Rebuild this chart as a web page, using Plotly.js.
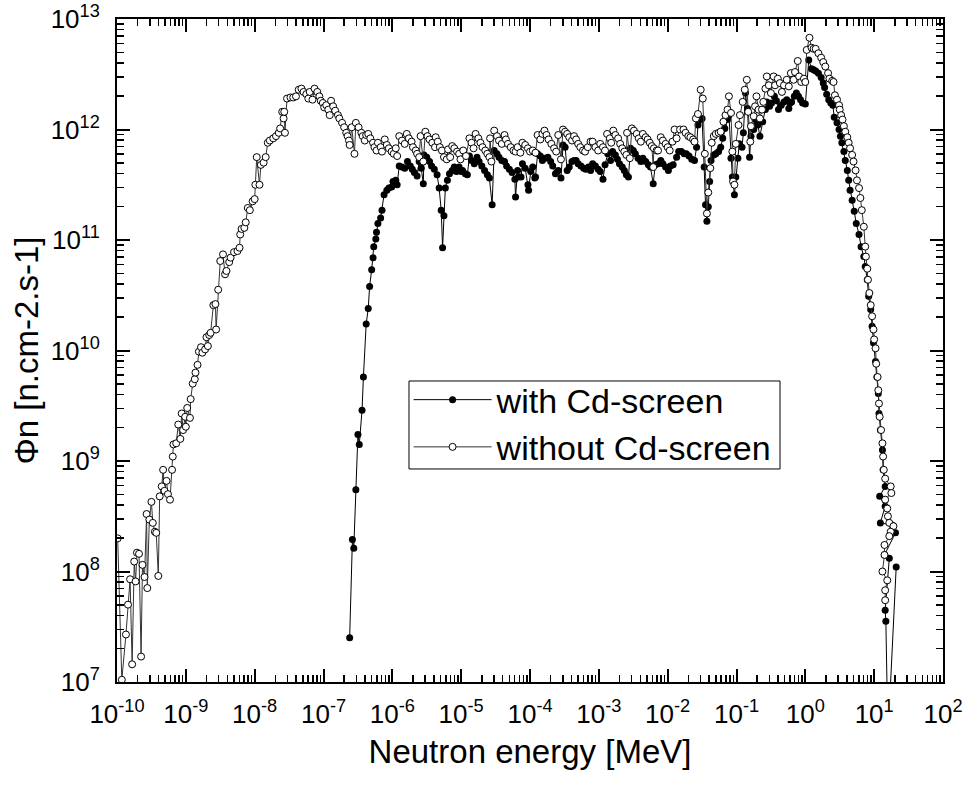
<!DOCTYPE html>
<html>
<head>
<meta charset="utf-8">
<script src="https://cdn.plot.ly/plotly-3.0.1.min.js"></script>
<style>html,body{margin:0;padding:0;background:#fff}#chart{width:966px;height:785px}</style>
</head>
<body>
<div id="chart"></div>
<script>
// log10(E [MeV]) and log10(flux)
const withoutLogE = [
-9.99,-9.93,-9.87,-9.84,-9.81,-9.78,-9.75,-9.73,-9.71,-9.68,-9.65,-9.63,-9.60,-9.57,-9.56,-9.53,-9.50,-9.48,-9.45,-9.43,-9.40,-9.38,
-9.35,-9.33,-9.31,-9.28,-9.26,-9.23,-9.20,-9.19,-9.18,-9.14,-9.11,-9.08,-9.06,-9.04,-9.01,-9.00,-8.98,-8.94,-8.93,-8.90,-8.87,-8.86,
-8.83,-8.81,-8.78,-8.76,-8.72,-8.70,-8.68,-8.66,-8.64,-8.60,-8.57,-8.56,-8.53,-8.50,-8.46,-8.43,-8.41,-8.37,-8.35,-8.30,-8.25,
-8.22,-8.21,-8.19,-8.15,-8.13,-8.10,-8.07,-8.03,-8.00,-7.99,-7.97,-7.93,-7.91,-7.87,-7.84,-7.81,-7.78,-7.73,-7.69,-7.65,-7.63,
-7.60,-7.58,-7.57,-7.56,-7.53,-7.48,-7.44,-7.40,-7.36,-7.32,-7.29,-7.25,-7.22,-7.20,-7.16,-7.13,-7.09,-7.06,-7.04,-7.01,-6.99,
-6.96,-6.93,-6.91,-6.89,-6.86,-6.83,-6.79,-6.77,-6.73,-6.70,-6.67,-6.65,-6.63,-6.62,-6.59,-6.55,-6.53,-6.49,-6.45,-6.43,-6.40,
-6.38,-6.35,-6.32,-6.28,-6.26,-6.23,-6.21,-6.17,
-6.15,-6.11,-6.08,-6.05,-6.01,-5.98,-5.95,-5.93,-5.90,-5.86,-5.82,-5.79,-5.76,-5.72,-5.70,-5.66,-5.64,-5.61,-5.59,-5.55,-5.52,
-5.49,-5.46,-5.42,-5.38,-5.37,-5.34,-5.31,-5.28,-5.25,-5.21,-5.19,-5.16,-5.13,-5.10,-5.06,-5.03,-5.01,-4.97,-4.93,-4.88,-4.85,
-4.82,-4.79,-4.75,-4.72,-4.69,-4.65,-4.62,-4.59,-4.58,-4.56,-4.52,-4.48,-4.45,-4.41,-4.37,-4.35,-4.32,-4.28,-4.24,-4.21,-4.18,
-4.14,-4.11,-4.07,-4.03,-4.00,-3.96,-3.92,-3.89,-3.85,-3.82,-3.79,-3.76,-3.73,-3.69,-3.65,-3.62,-3.59,-3.55,-3.52,-3.49,-3.46,
-3.43,-3.39,-3.36,-3.33,-3.30,-3.27,-3.23,-3.20,-3.16,-3.12,-3.09,-3.05,-3.01,-2.98,-2.94,-2.91,-2.88,-2.84,-2.82,-2.79,-2.76,
-2.72,-2.69,-2.66,-2.63,-2.60,-2.59,-2.55,-2.52,-2.49,-2.45,-2.42,-2.39,-2.36,-2.32,-2.29,-2.26,-2.23,-2.21,-2.20,-2.16,-2.14,
-2.10,-2.07,-2.03,-2.00,-1.97,-1.93,-1.90,-1.87,-1.82,
-1.77,-1.74,-1.70,-1.67,-1.63,-1.61,-1.59,-1.56,-1.52,-1.49,-1.46,-1.43,-1.41,-1.38,-1.36,-1.33,-1.30,-1.26,-1.23,-1.19,-1.16,
-1.13,-1.11,-1.08,-1.06,-1.05,-1.03,-1.01,-0.97,-0.95,-0.91,-0.88,-0.85,-0.83,-0.80,-0.79,-0.75,-0.73,-0.71,-0.68,-0.66,-0.63,
-0.61,-0.58,-0.56,-0.53,-0.50,-0.46,-0.44,-0.40,-0.37,-0.34,-0.31,-0.27,-0.24,-0.21,-0.17,-0.15,-0.11,-0.09,-0.06,-0.02,0.00,
0.02,0.06,0.09,0.12,0.15,0.19,0.23,0.26,0.29,0.33,0.35,0.39,0.41,0.43,0.46,0.49,0.50,0.52,0.54,0.56,0.58,0.61,0.63,0.65,0.68,
0.70,0.73,0.75,0.78,0.80,0.82,0.85,
0.87,0.88,0.90,0.91,0.93,0.95,0.97,0.99,1.00,1.02,1.03,1.05,1.06,1.07,1.08,1.10,1.12,1.13,1.14,1.16,1.24,1.25,1.16,1.19,1.20,
1.22,1.28,1.24,1.22,1.15,1.15,1.12,1.19,1.16,1.16
];
const withoutLogPhi = [
8.30,7.02,7.43,7.70,7.93,7.16,8.09,7.91,8.17,8.16,7.23,8.06,7.95,8.52,7.85,8.47,8.63,8.44,8.36,8.35,7.96,8.68,
8.77,8.92,8.73,8.82,8.70,8.65,8.92,9.04,9.15,9.16,9.33,9.20,9.43,9.28,9.40,9.31,9.48,9.39,9.56,9.70,9.74,9.80,
9.87,9.99,10.03,9.98,10.01,10.12,10.04,10.14,10.16,10.41,10.42,10.19,10.55,10.81,10.87,10.69,10.72,10.80,10.84,10.89,10.90,
10.93,11.05,11.10,11.11,11.16,11.29,11.27,11.35,11.37,11.50,11.75,11.50,11.68,11.70,11.75,11.88,11.90,11.92,11.94,11.97,12.01,
12.16,12.10,12.16,11.97,12.28,12.29,12.29,12.30,12.36,12.37,12.34,12.32,12.28,12.34,12.27,12.37,12.34,12.30,12.26,12.24,12.20,
12.22,12.18,12.13,12.26,12.21,12.17,12.13,12.10,12.06,12.02,11.97,11.94,11.90,11.86,12.02,11.78,12.06,12.02,11.97,11.94,11.90,
11.95,11.96,11.92,11.88,11.84,11.81,11.88,11.84,
11.80,11.91,11.86,11.83,11.80,11.78,11.83,11.76,11.94,11.90,11.87,11.96,11.92,11.89,11.84,11.81,11.78,11.75,11.94,11.71,11.98,
11.94,11.91,11.88,11.84,11.93,11.89,11.84,11.81,11.75,11.73,11.82,11.75,11.85,11.83,11.80,11.78,11.73,11.81,11.76,11.92,11.88,
11.83,11.96,11.92,11.88,11.84,11.81,11.78,11.75,11.92,11.71,11.99,11.94,11.90,11.87,11.95,11.91,11.87,11.84,11.81,11.80,11.84,
11.79,11.88,11.86,11.83,11.80,11.81,11.79,11.95,11.91,11.96,11.99,11.95,11.91,11.87,11.83,11.80,11.95,11.73,12.00,11.98,11.96,
11.93,11.90,11.94,11.91,11.87,11.84,11.81,11.80,11.84,11.89,11.89,11.84,11.81,11.87,11.84,11.81,11.96,11.92,11.88,11.99,11.95,
11.92,11.87,11.83,11.80,11.77,11.97,11.74,12.01,11.99,11.96,11.92,11.89,11.96,11.93,11.91,11.88,11.85,11.66,11.83,11.81,11.81,
11.93,11.90,11.87,11.84,11.81,11.89,12.00,11.92,12.00,
12.00,11.97,11.94,11.93,11.91,11.89,12.10,12.14,12.36,12.28,11.78,11.24,11.43,11.65,11.88,11.94,11.96,11.97,11.98,12.07,12.13,
12.18,12.30,12.15,11.80,11.53,11.50,11.87,12.04,12.13,12.25,12.36,12.45,12.16,11.89,12.03,12.12,12.21,12.30,12.18,12.10,12.18,
12.25,12.37,12.48,12.40,12.33,12.48,12.40,12.46,12.42,12.34,12.40,12.45,12.39,12.51,12.45,12.52,12.62,12.48,12.43,12.46,12.43,
12.72,12.83,12.74,12.73,12.73,12.69,12.65,12.61,12.57,12.51,12.46,12.44,12.43,12.31,12.27,12.22,12.18,12.13,12.09,12.03,11.98,
11.93,11.88,11.83,11.77,11.71,11.63,11.54,11.47,11.38,11.27,11.12,
10.94,10.85,10.74,10.64,10.52,10.41,10.31,10.19,10.10,10.02,9.88,9.76,9.64,9.52,9.40,9.28,9.16,9.04,8.92,8.84,8.77,8.71,8.65,
8.57,8.50,8.44,8.41,8.36,8.32,8.24,8.15,8.00,7.92,7.83,7.74
];

const withLogE = [
-6.62,-6.58,-6.56,-6.53,-6.50,-6.48,-6.44,-6.42,-6.38,-6.35,-6.33,-6.30,-6.28,-6.27,-6.24,-6.23,-6.21,
-6.17,-6.15,-6.12,-6.08,-6.05,-6.01,-5.99,-5.95,-5.93,-5.90,-5.86,-5.82,-5.78,-5.74,-5.71,-5.68,-5.64,-5.61,-5.58,-5.55,-5.54,
-5.50,-5.46,-5.43,-5.39,-5.35,-5.32,-5.29,-5.27,-5.25,-5.23,-5.20,-5.17,-5.13,-5.10,-5.07,-5.03,-5.00,-4.98,-4.94,-4.91,-4.88,
-4.85,-4.81,-4.77,-4.74,-4.70,-4.66,-4.62,-4.59,-4.55,-4.52,-4.48,-4.45,-4.41,-4.37,-4.34,-4.30,-4.26,-4.22,-4.21,-4.18,-4.17,
-4.13,-4.11,-4.07,-4.03,-4.02,-3.99,-3.96,-3.93,-3.92,-3.89,-3.85,-3.82,-3.78,-3.74,-3.70,-3.67,-3.63,-3.59,-3.55,-3.52,-3.49,
-3.46,-3.43,-3.39,-3.36,-3.33,-3.30,-3.26,-3.22,-3.19,-3.15,-3.12,-3.09,-3.05,-3.01,-2.98,-2.94,-2.91,-2.87,-2.83,-2.80,-2.76,
-2.73,-2.70,-2.66,-2.63,-2.60,-2.57,-2.54,-2.50,-2.47,-2.43,-2.39,-2.36,-2.32,-2.28,-2.25,-2.21,-2.18,-2.14,-2.10,-2.07,-2.03,
-1.99,-1.96,-1.92,-1.87,-1.84,
-1.80,-1.76,-1.73,-1.69,-1.65,-1.61,-1.58,-1.56,-1.52,-1.50,-1.47,-1.45,-1.43,-1.41,-1.39,-1.37,-1.33,-1.30,-1.26,-1.23,-1.20,
-1.17,-1.13,-1.11,-1.08,-1.06,-1.03,-1.01,-0.98,-0.96,-0.92,-0.90,-0.87,-0.84,-0.81,-0.79,-0.75,-0.73,-0.69,-0.66,-0.62,-0.58,
-0.56,-0.52,-0.49,-0.45,-0.42,-0.39,-0.35,-0.31,-0.27,-0.24,-0.22,-0.20,-0.16,-0.13,-0.10,-0.07,-0.04,0.00,0.05,0.09,0.12,0.15,
0.19,0.23,0.26,0.28,0.31,0.34,0.37,0.40,0.42,0.46,0.49,0.51,0.53,0.56,0.58,0.61,0.63,0.65,0.68,0.71,0.74,0.78,0.81,
0.85,0.87,0.90,0.92,0.95,0.97,0.99,1.02,1.04,1.06,1.07,1.09,1.12,1.13,1.16,1.08,1.16,1.09,1.26,1.31,1.15,1.22,1.16,1.17,1.20,1.32
];
const withLogPhi = [
7.40,8.29,8.21,8.74,9.24,9.15,9.46,9.76,10.24,10.38,10.58,10.73,10.84,10.94,11.01,11.07,11.15,
11.20,11.27,11.41,11.45,11.47,11.48,11.53,11.54,11.50,11.67,11.66,11.65,11.71,11.67,11.64,11.61,11.58,11.71,11.65,11.51,11.77,
11.75,11.71,11.67,11.64,11.59,11.47,11.27,10.93,11.22,11.47,11.54,11.60,11.63,11.66,11.62,11.66,11.62,11.63,11.60,11.59,11.76,
11.72,11.69,11.75,11.71,11.67,11.63,11.59,11.56,11.32,11.81,11.78,11.75,11.72,11.71,11.67,11.64,11.61,11.55,11.39,11.63,11.57,
11.57,11.69,11.65,11.50,11.45,11.62,11.66,11.56,11.57,11.78,11.76,11.72,11.74,11.75,11.71,11.67,11.60,11.63,11.56,11.86,11.84,
11.63,11.66,11.71,11.72,11.72,11.69,11.67,11.65,11.64,11.66,11.63,11.69,11.67,11.64,11.62,11.55,11.68,11.78,11.72,11.80,11.77,
11.73,11.69,11.66,11.63,11.59,11.57,11.83,11.81,11.78,11.74,11.71,11.74,11.71,11.68,11.66,11.51,11.68,11.69,11.72,11.69,11.66,
11.63,11.67,11.68,11.75,11.80,
11.80,11.78,11.78,11.76,11.73,11.72,11.84,12.04,12.09,12.10,11.66,11.32,11.17,11.30,11.53,11.72,11.77,11.78,11.80,11.84,11.92,
12.01,12.09,12.13,11.74,11.57,11.41,11.57,11.74,11.87,11.84,11.97,12.33,12.19,11.75,11.94,12.00,12.09,12.04,11.94,12.07,12.18,
12.25,12.21,12.24,12.30,12.26,12.18,12.22,12.25,12.27,12.19,12.24,12.25,12.30,12.33,12.30,12.27,12.24,12.23,12.63,12.55,12.54,12.53,
12.51,12.47,12.42,12.38,12.32,12.27,12.24,12.22,12.11,12.06,12.00,11.94,11.88,11.80,11.72,11.63,11.54,11.45,11.36,11.26,11.15,11.05,10.94,
10.85,10.76,10.64,10.49,10.37,10.22,10.07,9.90,9.76,9.61,9.43,9.28,9.10,8.92,8.77,8.68,8.59,8.44,8.42,8.35,8.15,8.12,7.65,7.55,6.50,8.04
];

const xTickExp = [-10,-9,-8,-7,-6,-5,-4,-3,-2,-1,0,1,2];
const yTickExp = [7,8,9,10,11,12,13];
const xTickLabels = xTickExp.map(e => '10<sup>' + e + '</sup>');
const yTickLabels = yTickExp.map(e => '10<sup>' + e + '</sup>');

const pow10 = v => Math.pow(10, v);
function minorVals(exps) {
  const out = [];
  for (let i = 0; i < exps.length - 1; i++) for (let d = 2; d <= 9; d++) out.push(d * pow10(exps[i]));
  return out;
}

const font = '"Liberation Sans", Arial, Helvetica, sans-serif';

const traces = [
  {
    name: 'with Cd-screen', type: 'scatter', mode: 'lines+markers',
    x: withLogE.map(pow10), y: withLogPhi.map(pow10),
    line: {color: '#000', width: 1},
    marker: {symbol: 'circle', size: 7, color: '#000', line: {color: '#000', width: 0}}
  },
  {
    name: 'without Cd-screen', type: 'scatter', mode: 'lines+markers',
    x: withoutLogE.map(pow10), y: withoutLogPhi.map(pow10),
    line: {color: '#333', width: 1},
    marker: {symbol: 'circle', size: 7, color: '#fff', line: {color: '#000', width: 1}}
  },
  // empty trace that only attaches the mirrored frame axes (top / right)
  {
    type: 'scatter', mode: 'none', x: [], y: [], xaxis: 'x2', yaxis: 'y2',
    showlegend: false, hoverinfo: 'skip'
  }
];

const minorX = minorVals(xTickExp);
const minorY = minorVals(yTickExp);

function axis(extra) {
  return Object.assign({
    type: 'log', showline: true, linecolor: '#000', linewidth: 2,
    ticks: 'inside', ticklen: 13, tickwidth: 2, tickcolor: '#000',
    showgrid: false, zeroline: false, tickmode: 'array',
    tickfont: {family: font, size: 26, color: '#000'}
  }, extra);
}
function minor(vals) {
  return {tickmode: 'array', tickvals: vals, ticks: 'inside', ticklen: 7, tickwidth: 1.5, tickcolor: '#000', showgrid: false};
}

const layout = {
  width: 966, height: 785,
  margin: {l: 117, r: 23, t: 19, b: 103},
  paper_bgcolor: '#fff', plot_bgcolor: '#fff',
  showlegend: true,
  xaxis: axis({
    range: [-10, 2], mirror: 'ticks',
    tickvals: xTickExp.map(pow10), ticktext: xTickLabels, ticklabelstandoff: 8,
    minor: minor(minorX),
    title: {text: 'Neutron energy [MeV]', font: {family: font, size: 33, color: '#000'}, standoff: 12}
  }),
  yaxis: axis({
    range: [7, 13], mirror: 'ticks',
    tickvals: yTickExp.map(pow10), ticktext: yTickLabels, ticklabelstandoff: 10,
    minor: minor(minorY),
    title: {text: 'Φn [n.cm-2.s-1]', font: {family: font, size: 33, color: '#000'}, standoff: 2}
  }),
  xaxis2: axis({
    range: [-10, 2], overlaying: 'x', side: 'top', anchor: 'y2',
    tickvals: xTickExp.map(pow10), showticklabels: false,
    minor: minor(minorX)
  }),
  yaxis2: axis({
    range: [7, 13], overlaying: 'y', side: 'right', anchor: 'x2',
    tickvals: yTickExp.map(pow10), showticklabels: false,
    minor: minor(minorY)
  }),
  // legend frame
  shapes: [{
    type: 'rect', xref: 'paper', yref: 'paper', layer: 'above',
    x0: 0.3535, x1: 0.8027, y0: 0.3213, y1: 0.454,
    line: {color: '#000', width: 1}, fillcolor: '#fff'
  }],
  legend: {
    x: 0.353, y: 0.469, xanchor: 'left', yanchor: 'top',
    bgcolor: 'rgba(0,0,0,0)', borderwidth: 0,
    font: {family: font, size: 34, color: '#000'},
    itemwidth: 78, tracegroupgap: 0
  }
};

Plotly.newPlot('chart', traces, layout, {displayModeBar: false, staticPlot: true});
</script>
</body>
</html>
